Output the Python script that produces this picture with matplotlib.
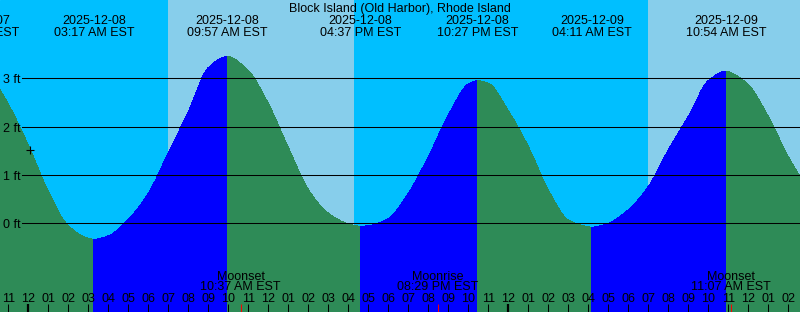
"""Block Island tide chart (XTide style)."""
import matplotlib

matplotlib.use("Agg")
import matplotlib.pyplot as plt  # noqa: E402
from matplotlib import transforms  # noqa: E402
from matplotlib.path import Path  # noqa: E402
from matplotlib.patches import PathPatch  # noqa: E402

plt.rcParams["font.family"] = ["Liberation Sans", "DejaVu Sans"]
plt.rcParams["font.size"] = 9

TITLE = "Block Island (Old Harbor), Rhode Island"

# hours after 2025-12-08 00:00 EST, heights (ft)
tide_hours = [-1.415, -1, 0, 1, 2, 3, 3.283, 4, 5, 6, 7, 8, 9, 9.95, 11, 12,
              13, 14, 15, 16, 16.617, 17, 18, 19, 20, 21, 22, 22.45, 23, 24,
              25, 26, 27, 28, 28.183, 29, 30, 31, 32, 33, 34, 34.9, 35, 36,
              37, 38, 38.585]
tide_ft = [2.76, 2.47, 1.62, 0.66, -0.05, -0.31, -0.33, -0.26, 0.08, 0.62,
           1.46, 2.31, 3.22, 3.45, 3.16, 2.48, 1.57, 0.70, 0.21, -0.01, -0.06,
           -0.05, 0.10, 0.62, 1.38, 2.24, 2.88, 2.95, 2.90, 2.33, 1.59, 0.69,
           0.07, -0.07, -0.08, 0.0, 0.28, 0.76, 1.52, 2.21, 2.95, 3.15, 3.14,
           2.87, 2.21, 1.38, 0.97]

extreme_hours = [-2.5, 3.283, 9.95, 16.617, 22.45, 28.183, 34.9]
extreme_dates = ["2025-12-07", "2025-12-08", "2025-12-08", "2025-12-08",
                 "2025-12-08", "2025-12-09", "2025-12-09"]
extreme_times = ["09:30 PM EST", "03:17 AM EST", "09:57 AM EST",
                 "04:37 PM EST", "10:27 PM EST", "04:11 AM EST",
                 "10:54 AM EST"]

sunrise_hours = [6.967, 30.983]
sunset_hours = [16.283, 40.283]

moon_hours = [10.617, 20.483, 35.117]
moon_events = ["Moonset", "Moonrise", "Moonset"]
moon_times = ["10:37 AM EST", "08:29 PM EST", "11:07 AM EST"]

tick_hours = list(range(-1, 39))
tick_labels = ("11 12 01 02 03 04 05 06 07 08 09 10 11 12 01 02 03 04 05 06 "
               "07 08 09 10 11 12 01 02 03 04 05 06 07 08 09 10 11 12 01 02"
               ).split()
midnight_hours = [0, 24]

gridlines_ft = [0, 1, 2, 3]
now_hour, now_ft = 0.085, 1.52

NIGHT = "#00bfff"
DAY = "#87ceeb"
FLOOD = "#0000ff"
EBB = "#2e8b57"
FLOOR = -5

W, H = 800, 312


def tangents(xs, ys):
    # monotone (Fritsch-Butland) tangents so the curve never overshoots
    d = [(ys[i + 1] - ys[i]) / (xs[i + 1] - xs[i]) for i in range(len(xs) - 1)]
    m = [d[0]] + [0.0] * (len(xs) - 2) + [d[-1]]
    for i in range(1, len(xs) - 1):
        if d[i - 1] * d[i] > 0:
            h0, h1 = xs[i] - xs[i - 1], xs[i + 1] - xs[i]
            w1, w2 = 2 * h1 + h0, h1 + 2 * h0
            m[i] = (w1 + w2) / (w1 / d[i - 1] + w2 / d[i])
    return m


def water_patch(i0, i1, slopes, color):
    verts = [(tide_hours[i0], FLOOR), (tide_hours[i0], tide_ft[i0])]
    codes = [Path.MOVETO, Path.LINETO]
    for i in range(i0, i1):
        t0, t1 = tide_hours[i], tide_hours[i + 1]
        dt = (t1 - t0) / 3
        verts += [(t0 + dt, tide_ft[i] + slopes[i] * dt),
                  (t1 - dt, tide_ft[i + 1] - slopes[i + 1] * dt),
                  (t1, tide_ft[i + 1])]
        codes += [Path.CURVE4] * 3
    verts += [(tide_hours[i1], FLOOR), (tide_hours[i0], FLOOR)]
    codes += [Path.LINETO, Path.CLOSEPOLY]
    return PathPatch(Path(verts, codes), facecolor=color, lw=0,
                     antialiased=False, zorder=2)


fig = plt.figure(figsize=(W / 100, H / 100), dpi=100)
ax = fig.add_axes([0, 0, 1, 1])
ax.set_axis_off()
ax.set_xlim(-1.415, 38.585)
ax.set_ylim(-1.835, 4.62)
ax.add_patch(plt.Rectangle((0, 0), 1, 1, transform=ax.transAxes,
                           color=NIGHT, zorder=0))

for rise, sset in zip(sunrise_hours, sunset_hours):
    ax.axvspan(rise, sset, color=DAY, lw=0, zorder=1)

# water, split at each high / low: rising = flood blue, falling = ebb green
slopes = tangents(tide_hours, tide_ft)
cut = [0] + [tide_hours.index(t) for t in extreme_hours if t in tide_hours] \
    + [len(tide_hours) - 1]
for i0, i1 in zip(cut[:-1], cut[1:]):
    col = FLOOD if tide_ft[i1] > tide_ft[i0] else EBB
    ax.add_patch(water_patch(i0, i1, slopes, col))

ylab = transforms.offset_copy(
    transforms.blended_transform_factory(ax.transAxes, ax.transData),
    fig=fig, x=0, y=-5, units="dots")
for h in gridlines_ft:
    ax.axhline(h, xmin=22 / W, color="black", lw=0.75, zorder=3)
    ax.text(3 / W, h, f"{h} ft", transform=ylab, ha="left", va="baseline")

ax.plot([now_hour], [now_ft], marker="+", color="black", ms=6, mew=0.8,
        zorder=4)

xfig = transforms.blended_transform_factory(ax.transData, fig.transFigure)


def py(px):
    return 1 - px / H


fig.text(0.5, py(11.7), TITLE, ha="center", va="baseline")
for t, d, s in zip(extreme_hours, extreme_dates, extreme_times):
    ax.text(t, py(24), d, transform=xfig, ha="center", va="baseline")
    ax.text(t, py(36), s, transform=xfig, ha="center", va="baseline")

for t, lab in zip(tick_hours, tick_labels):
    lw = 1.6 if t in midnight_hours else 0.75
    ax.plot([t, t], [py(304), py(312)], transform=xfig, color="black",
            lw=lw, solid_capstyle="butt", zorder=5)
    ax.text(t, py(301.7), lab, transform=xfig, ha="center", va="baseline")

for t, ev, s in zip(moon_hours, moon_events, moon_times):
    ax.plot([t, t], [py(304), py(312)], transform=xfig, color="red",
            lw=0.75, solid_capstyle="butt", zorder=5)
    ax.text(t, py(279.5), ev, transform=xfig, ha="center", va="baseline")
    ax.text(t, py(290.5), s, transform=xfig, ha="center", va="baseline")

fig.savefig("out.png", dpi=100)
plt.close(fig)
